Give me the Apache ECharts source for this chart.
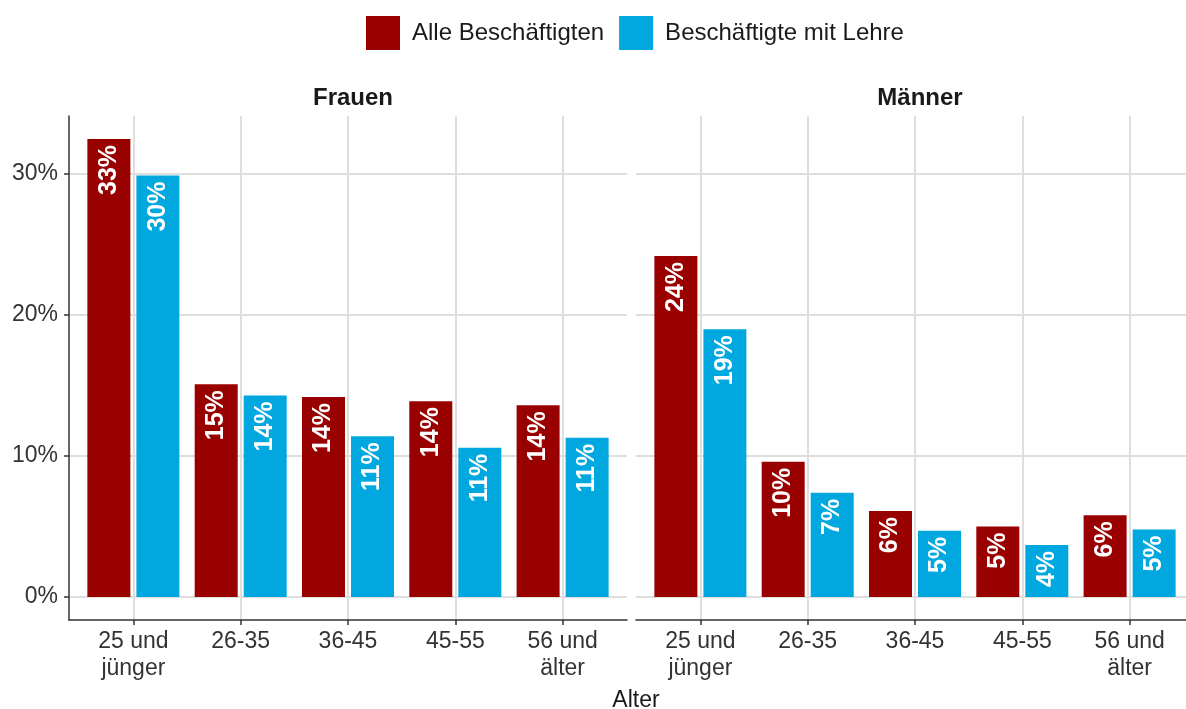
<!DOCTYPE html>
<html>
<head>
<meta charset="utf-8">
<script src="https://cdn.jsdelivr.net/npm/echarts@6/dist/echarts.min.js"></script>
<style>
  html, body { margin: 0; padding: 0; background: #fff; }
  #chart { width: 1186px; height: 709px; }
</style>
</head>
<body>
<div id="chart"></div>
<script>
// Kategorien (Altersgruppen) und Werte in Prozent
const categories = ['25 und\njünger', '26-35', '36-45', '45-55', '56 und\nälter'];
const panels = ['Frauen', 'Männer'];
const seriesNames = ['Alle Beschäftigten', 'Beschäftigte mit Lehre'];

const frauenAlle = [32.5, 15.1, 14.2, 13.9, 13.6];
const frauenLehre = [29.9, 14.3, 11.4, 10.6, 11.3];
const maennerAlle = [24.2, 9.6, 6.1, 5.0, 5.8];
const maennerLehre = [19.0, 7.4, 4.7, 3.7, 4.8];

const yTicks = [0, 10, 20, 30];

const colors = ['#990000', '#00A8DF'];
const gridColor = '#dedede';
const axisColor = '#333333';
const font = 'Liberation Sans, Arial, sans-serif';

// Positionen der Kategorien auf der x-Achse (1..5)
const xPos = categories.map((_, i) => i + 1);

const chart = echarts.init(document.getElementById('chart'));

function makeXAxis(gridIndex) {
    return {
        type: 'value',
        gridIndex: gridIndex,
        min: 0.4,
        max: 5.6,
        axisLine: { show: true, onZero: false, lineStyle: { color: axisColor, width: 1.5 } },
        axisTick: { show: true, length: 5, customValues: xPos, lineStyle: { color: axisColor, width: 1.5 } },
        axisLabel: {
            customValues: xPos,
            formatter: v => categories[Math.round(v) - 1] || '',
            color: '#333',
            fontFamily: font,
            fontSize: 23,
            lineHeight: 27,
            margin: 8
        },
        splitLine: { show: true, lineStyle: { color: gridColor, width: 2 } }
    };
}

function makeYAxis(gridIndex, showAxis) {
    return {
        type: 'value',
        gridIndex: gridIndex,
        min: -1.625,
        max: 34.125,
        axisLine: { show: showAxis, onZero: false, lineStyle: { color: axisColor, width: 1.5 } },
        axisTick: { show: showAxis, length: 5, customValues: yTicks, lineStyle: { color: axisColor, width: 1.5 } },
        axisLabel: {
            show: showAxis,
            customValues: yTicks,
            formatter: v => v + '%',
            color: '#333',
            fontFamily: font,
            fontSize: 23,
            margin: 11,
            padding: [3, 0, 0, 0]
        },
        splitLine: { show: true, lineStyle: { color: gridColor, width: 2 } }
    };
}

const barLabel = {
    show: true,
    position: 'insideTop',
    rotate: 90,
    align: 'right',
    verticalAlign: 'middle',
    distance: 6,
    color: '#ffffff',
    fontFamily: font,
    fontWeight: 'bold',
    fontSize: 25,
    formatter: p => Math.round(p.value[1]) + '%'
};

function makeBar(name, values, gridIndex, colorIndex) {
    return {
        name: name,
        type: 'bar',
        xAxisIndex: gridIndex,
        yAxisIndex: gridIndex,
        data: values.map((v, i) => [xPos[i], v]),
        barWidth: 43,
        barGap: '14%',
        itemStyle: { color: colors[colorIndex] },
        label: barLabel
    };
}

chart.setOption({
    animation: false,
    backgroundColor: '#ffffff',
    textStyle: { fontFamily: font },
    title: [
        { text: panels[0], left: 348, top: 81, textAlign: 'center',
          textStyle: { fontSize: 24, fontWeight: 'bold', color: '#1a1a1a', fontFamily: font } },
        { text: panels[1], left: 915, top: 81, textAlign: 'center',
          textStyle: { fontSize: 24, fontWeight: 'bold', color: '#1a1a1a', fontFamily: font } },
        { text: 'Alter', left: 631, top: 684, textAlign: 'center',
          textStyle: { fontSize: 23, fontWeight: 'normal', color: '#1a1a1a', fontFamily: font } }
    ],
    legend: {
        data: seriesNames,
        left: 366,
        top: 16,
        padding: 0,
        itemWidth: 34,
        itemHeight: 34,
        itemGap: 15,
        icon: 'rect',
        textStyle: { fontSize: 24, color: '#1a1a1a', fontFamily: font, padding: [0, 0, 0, 7] }
    },
    grid: [
        { left: 69, top: 116, width: 558, height: 504, outerBoundsMode: 'none' },
        { left: 636, top: 116, width: 558, height: 504, outerBoundsMode: 'none' }
    ],
    xAxis: [makeXAxis(0), makeXAxis(1)],
    yAxis: [makeYAxis(0, true), makeYAxis(1, false)],
    series: [
        makeBar(seriesNames[0], frauenAlle, 0, 0),
        makeBar(seriesNames[1], frauenLehre, 0, 1),
        makeBar(seriesNames[0], maennerAlle, 1, 0),
        makeBar(seriesNames[1], maennerLehre, 1, 1)
    ]
});
</script>
</body>
</html>
